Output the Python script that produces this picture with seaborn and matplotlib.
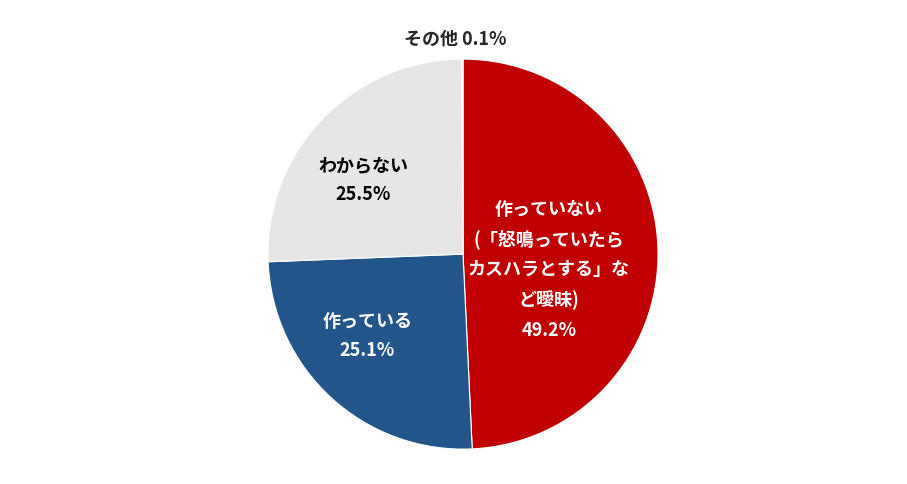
import matplotlib
matplotlib.use("Agg")
import matplotlib.pyplot as plt
import seaborn as sns

sns.set_theme(style="white")
plt.rcParams['font.family'] = ['Noto Sans CJK JP', 'DejaVu Sans']

categories = ["作っていない\n(「怒鳴っていたら\nカスハラとする」な\nど曖昧)", "作っている", "わからない", "その他"]
values = [49.2, 25.1, 25.5, 0.1]
colors = ["#C00000", "#22568A", "#E7E6E6", "#4472C4"]

fig = plt.figure(figsize=(9.07, 4.84), dpi=100)
ax = fig.add_axes([0.5105 - 0.215, 0.475 - 0.403, 0.43, 0.806])
ax.pie(values, colors=colors, startangle=90, counterclock=False,
       wedgeprops=dict(edgecolor="white", linewidth=0.8))
ax.set_xlim(-1, 1); ax.set_ylim(-1, 1)

pos = [(0.44, -0.08), (-0.49, -0.42), (-0.51, 0.38)]
tcol = ["white", "white", "black"]
for c, v, (x, y), tc in zip(categories[:3], values[:3], pos, tcol):
    ax.text(x, y, f"{c}\n{v:.1f}%", ha="center", va="center", color=tc,
            fontsize=13, fontweight="bold", linespacing=1.7)
ax.text(-0.04, 1.10, f"{categories[3]} {values[3]:.1f}%", ha="center", va="center",
        fontsize=13, fontweight="bold")
ax.axis("off")
fig.savefig("out.png", dpi=100)
